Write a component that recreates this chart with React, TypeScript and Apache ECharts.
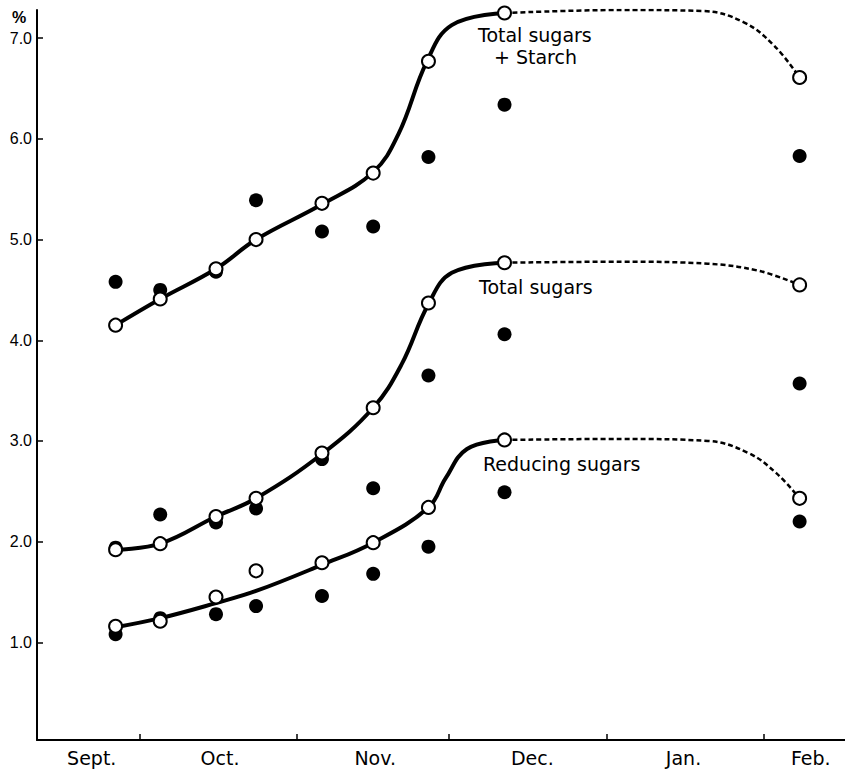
import React, { useEffect, useRef } from "react";
import * as echarts from "echarts";

// Sampling dates (days after Sept 1)
const sampleDays = [25.2, 34.0, 45.0, 52.9, 65.9, 76.0, 86.9, 101.9, 160.1];

// Measured values (%), open = one treatment, filled = other
const starchOpen = [4.15, 4.41, 4.71, 5.0, 5.36, 5.66, 6.77, 7.25, 6.61];
const starchFilled = [4.58, 4.5, 4.68, 5.39, 5.08, 5.13, 5.82, 6.34, 5.83];
const totalOpen = [1.92, 1.98, 2.25, 2.43, 2.88, 3.33, 4.37, 4.77, 4.55];
const totalFilled = [1.94, 2.27, 2.19, 2.33, 2.82, 2.53, 3.65, 4.06, 3.57];
const reducingOpen = [1.16, 1.21, 1.45, 1.71, 1.79, 1.99, 2.34, 3.01, 2.43];
const reducingFilled = [1.08, 1.24, 1.28, 1.36, 1.46, 1.68, 1.95, 2.49, 2.2];

// Hand-drawn trend curves (solid to Dec., dashed to Feb.)
const starchCurveDays = [25.2, 34.0, 45.0, 52.9, 65.9, 76.0, 81.0, 86.6, 91.5, 101.9];
const starchCurveVals = [4.15, 4.41, 4.71, 5.0, 5.35, 5.67, 6.05, 6.77, 7.13, 7.25];
const starchDashDays = [101.9, 125.0, 141.0, 149.0, 155.0, 160.1];
const starchDashVals = [7.25, 7.28, 7.27, 7.16, 6.93, 6.61];

const totalCurveDays = [25.2, 34.0, 45.0, 52.9, 65.9, 76.0, 81.6, 86.9, 91.5, 101.9];
const totalCurveVals = [1.92, 1.98, 2.25, 2.43, 2.87, 3.33, 3.76, 4.36, 4.67, 4.77];
const totalDashDays = [101.9, 125.0, 142.0, 152.0, 160.1];
const totalDashVals = [4.77, 4.78, 4.76, 4.69, 4.55];

const reducingCurveDays = [25.2, 34.0, 45.0, 52.9, 65.9, 76.0, 86.9, 90.3, 94.5, 101.9];
const reducingCurveVals = [1.15, 1.24, 1.39, 1.51, 1.77, 1.99, 2.34, 2.63, 2.92, 3.01];
const reducingDashDays = [101.9, 125.0, 142.0, 150.0, 155.5, 160.1];
const reducingDashVals = [3.01, 3.02, 3.0, 2.88, 2.68, 2.43];

// Axis labels
const monthNames = ["Sept.", "Oct.", "Nov.", "Dec.", "Jan.", "Feb."];
const monthLabelDays = [20.5, 45.8, 76.4, 107.4, 137.2, 162.3];
const monthTickDays = [30, 61, 91, 122, 153];
const yTicks = [1, 2, 3, 4, 5, 6, 7];

const zip = (xs: number[], ys: number[]) => xs.map((x, i) => [x, ys[i]]);

export default function App() {
  const ref = useRef<HTMLDivElement>(null);
  useEffect(() => {
    if (!ref.current) return;
    const chart = echarts.init(ref.current, undefined, { renderer: "svg" });
    const solid = (data: number[][]) => ({
      type: "line",
      data,
      smooth: 0.4,
      showSymbol: false,
      symbol: "none",
      z: 2,
      lineStyle: { color: "#000", width: 4 },
      silent: true,
    });
    const dashed = (data: number[][]) => ({
      type: "line",
      data,
      smooth: 0.4,
      showSymbol: false,
      symbol: "none",
      z: 2,
      lineStyle: { color: "#000", width: 2.5, type: [5, 3] },
      silent: true,
    });
    const open = (vals: number[]) => ({
      type: "scatter",
      data: zip(sampleDays, vals),
      symbol: "circle",
      symbolSize: 13,
      z: 4,
      itemStyle: { color: "#fff", borderColor: "#000", borderWidth: 2, opacity: 1 },
    });
    const filled = (vals: number[]) => ({
      type: "scatter",
      data: zip(sampleDays, vals),
      symbol: "circle",
      symbolSize: 14,
      z: 3,
      itemStyle: { color: "#000", opacity: 1 },
    });
    const labelFont = '19px "DejaVu Sans"';
    const txt = (text: string, x: number, y: number) => ({
      type: "text",
      x,
      y,
      z: 10,
      style: {
        text,
        font: labelFont,
        fill: "#000",
        textAlign: "left",
        textVerticalAlign: "middle",
        align: "left",
        verticalAlign: "middle",
      },
    });
    chart.setOption({
      animation: false,
      backgroundColor: "#fff",
      grid: { left: 37, right: 0, top: 10, bottom: 32, containLabel: false },
      xAxis: {
        type: "value",
        min: 9.7,
        max: 169.05,
        splitLine: { show: false },
        axisLine: { lineStyle: { color: "#000", width: 2 } },
        axisTick: {
          inside: true,
          length: 6,
          customValues: monthTickDays,
          lineStyle: { color: "#000", width: 1.5 },
        },
        axisLabel: {
          customValues: monthLabelDays,
          margin: 8,
          color: "#000",
          fontFamily: "DejaVu Sans",
          fontSize: 19,
          formatter: (v: number) => {
            const i = monthLabelDays.findIndex((p) => Math.abs(p - v) < 0.01);
            return i >= 0 ? monthNames[i] : "";
          },
        },
      },
      yAxis: {
        type: "value",
        min: 0.03,
        max: 7.28,
        splitLine: { show: false },
        axisLine: { show: true, lineStyle: { color: "#000", width: 2 } },
        axisTick: {
          show: true,
          inside: true,
          length: 6,
          customValues: yTicks,
          lineStyle: { color: "#000", width: 1.5 },
        },
        axisLabel: {
          customValues: yTicks,
          margin: 5,
          color: "#000",
          fontFamily: "Liberation Sans",
          fontSize: 16,
          formatter: (v: number) => v.toFixed(1),
        },
      },
      graphic: [
        {
          type: "text",
          x: 12,
          y: 17,
          style: {
            text: "%",
            font: 'bold 16px "Liberation Sans"',
            fill: "#000",
            textVerticalAlign: "middle",
            verticalAlign: "middle",
          },
        },
        txt("Total sugars", 478, 35),
        txt("+ Starch", 494, 57),
        txt("Total sugars", 479, 287),
        txt("Reducing sugars", 483, 464),
      ],
      series: [
        solid(zip(starchCurveDays, starchCurveVals)),
        dashed(zip(starchDashDays, starchDashVals)),
        solid(zip(totalCurveDays, totalCurveVals)),
        dashed(zip(totalDashDays, totalDashVals)),
        solid(zip(reducingCurveDays, reducingCurveVals)),
        dashed(zip(reducingDashDays, reducingDashVals)),
        filled(starchFilled),
        filled(totalFilled),
        filled(reducingFilled),
        open(starchOpen),
        open(totalOpen),
        open(reducingOpen),
      ],
    });
    return () => chart.dispose();
  }, []);
  return (
    <div
      ref={ref}
      style={{ position: "absolute", left: 0, top: 0, width: 845, height: 772, background: "#fff" }}
    />
  );
}
